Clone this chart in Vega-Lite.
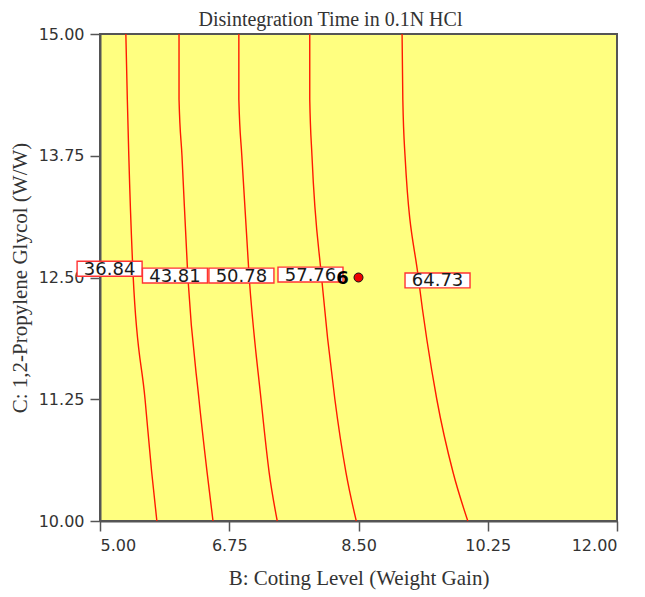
{
  "$schema": "https://vega.github.io/schema/vega-lite/v6.json",
  "width": 517,
  "height": 487,
  "autosize": "none",
  "padding": {"left": 100, "top": 34, "right": 28, "bottom": 76},
  "background": "white",
  "title": {
    "text": "Disintegration  Time in 0.1N HCl",
    "font": "Liberation Serif",
    "fontSize": 20,
    "fontWeight": "normal",
    "color": "#333333",
    "offset": -4,
    "dx": -28
  },
  "config": {
    "view": {"fill": "#FFFF80", "stroke": "#555555", "strokeWidth": 2},
    "axis": {
      "grid": false,
      "domainColor": "#555555",
      "domainWidth": 2,
      "tickColor": "#555555",
      "tickWidth": 1.5,
      "tickSize": 10,
      "labelFont": "DejaVu Sans",
      "labelFontSize": 16,
      "labelColor": "#333333",
      "labelPadding": 6,
      "titleFont": "Liberation Serif",
      "titleFontSize": 21,
      "titleFontWeight": "normal",
      "titleColor": "#333333"
    }
  },
  "datasets": {
    "contours": [
      {"level": 36.84, "B": 5.35, "C": 15},
      {"level": 36.84, "B": 5.37, "C": 14.33},
      {"level": 36.84, "B": 5.39, "C": 13.75},
      {"level": 36.84, "B": 5.45, "C": 12.5},
      {"level": 36.84, "B": 5.61, "C": 11.25},
      {"level": 36.84, "B": 5.70, "C": 10.5},
      {"level": 36.84, "B": 5.77, "C": 10},
      {"level": 43.81, "B": 6.07, "C": 15},
      {"level": 43.81, "B": 6.07, "C": 14.33},
      {"level": 43.81, "B": 6.11, "C": 13.75},
      {"level": 43.81, "B": 6.19, "C": 12.5},
      {"level": 43.81, "B": 6.34, "C": 11.25},
      {"level": 43.81, "B": 6.45, "C": 10.5},
      {"level": 43.81, "B": 6.53, "C": 10},
      {"level": 50.78, "B": 6.88, "C": 15},
      {"level": 50.78, "B": 6.88, "C": 14.33},
      {"level": 50.78, "B": 6.92, "C": 13.75},
      {"level": 50.78, "B": 7.02, "C": 12.5},
      {"level": 50.78, "B": 7.18, "C": 11.25},
      {"level": 50.78, "B": 7.29, "C": 10.5},
      {"level": 50.78, "B": 7.40, "C": 10},
      {"level": 57.76, "B": 7.84, "C": 15},
      {"level": 57.76, "B": 7.84, "C": 14.33},
      {"level": 57.76, "B": 7.87, "C": 13.75},
      {"level": 57.76, "B": 8.00, "C": 12.5},
      {"level": 57.76, "B": 8.18, "C": 11.25},
      {"level": 57.76, "B": 8.33, "C": 10.5},
      {"level": 57.76, "B": 8.47, "C": 10},
      {"level": 64.73, "B": 9.09, "C": 15},
      {"level": 64.73, "B": 9.10, "C": 14.33},
      {"level": 64.73, "B": 9.13, "C": 13.75},
      {"level": 64.73, "B": 9.31, "C": 12.5},
      {"level": 64.73, "B": 9.56, "C": 11.25},
      {"level": 64.73, "B": 9.78, "C": 10.5},
      {"level": 64.73, "B": 9.98, "C": 10}
    ],
    "labels": [
      {"label": "36.84", "B": 5.13, "C": 12.59},
      {"label": "43.81", "B": 6.015, "C": 12.52},
      {"label": "50.78", "B": 6.915, "C": 12.52},
      {"label": "57.76", "B": 7.85, "C": 12.53},
      {"label": "64.73", "B": 9.57, "C": 12.47}
    ],
    "design": [
      {"run": "6", "B": 8.5, "C": 12.5}
    ]
  },
  "encoding": {
    "x": {
      "field": "B",
      "type": "quantitative",
      "scale": {"domain": [5, 12], "nice": false, "zero": false},
      "axis": {"values": [5, 6.75, 8.5, 10.25, 12], "format": ".2f", "titlePadding": 14},
      "title": "B: Coting Level (Weight Gain)"
    },
    "y": {
      "field": "C",
      "type": "quantitative",
      "scale": {"domain": [10, 15], "nice": false, "zero": false},
      "axis": {"values": [10, 11.25, 12.5, 13.75, 15], "format": ".2f", "titlePadding": 8},
      "title": "C: 1,2-Propylene Glycol (W/W)"
    }
  },
  "layer": [
    {
      "data": {"name": "contours"},
      "mark": {"type": "line", "color": "#FF1A00", "strokeWidth": 1.4, "interpolate": "monotone"},
      "encoding": {
        "detail": {"field": "level", "type": "nominal"},
        "order": {"field": "C", "type": "quantitative"}
      }
    },
    {
      "data": {"name": "labels"},
      "mark": {
        "type": "point",
        "shape": "M-1,-0.23L1,-0.23L1,0.23L-1,0.23Z",
        "size": 4225,
        "filled": false,
        "fill": "white",
        "fillOpacity": 1,
        "stroke": "#FF3333",
        "strokeWidth": 1.4,
        "opacity": 1
      }
    },
    {
      "data": {"name": "labels"},
      "mark": {
        "type": "text",
        "font": "DejaVu Sans",
        "fontSize": 18,
        "color": "#1A1A1A",
        "baseline": "middle",
        "align": "center",
        "dy": 1
      },
      "encoding": {"text": {"field": "label", "type": "nominal"}}
    },
    {
      "data": {"name": "design"},
      "mark": {
        "type": "point",
        "shape": "circle",
        "filled": true,
        "size": 81,
        "fill": "#EE0000",
        "stroke": "#111111",
        "strokeWidth": 1,
        "opacity": 1
      }
    },
    {
      "data": {"name": "design"},
      "mark": {
        "type": "text",
        "font": "DejaVu Sans",
        "fontSize": 18,
        "fontWeight": "bold",
        "color": "#000000",
        "baseline": "middle",
        "align": "center",
        "dx": -16,
        "dy": 1
      },
      "encoding": {"text": {"field": "run", "type": "nominal"}}
    }
  ]
}
